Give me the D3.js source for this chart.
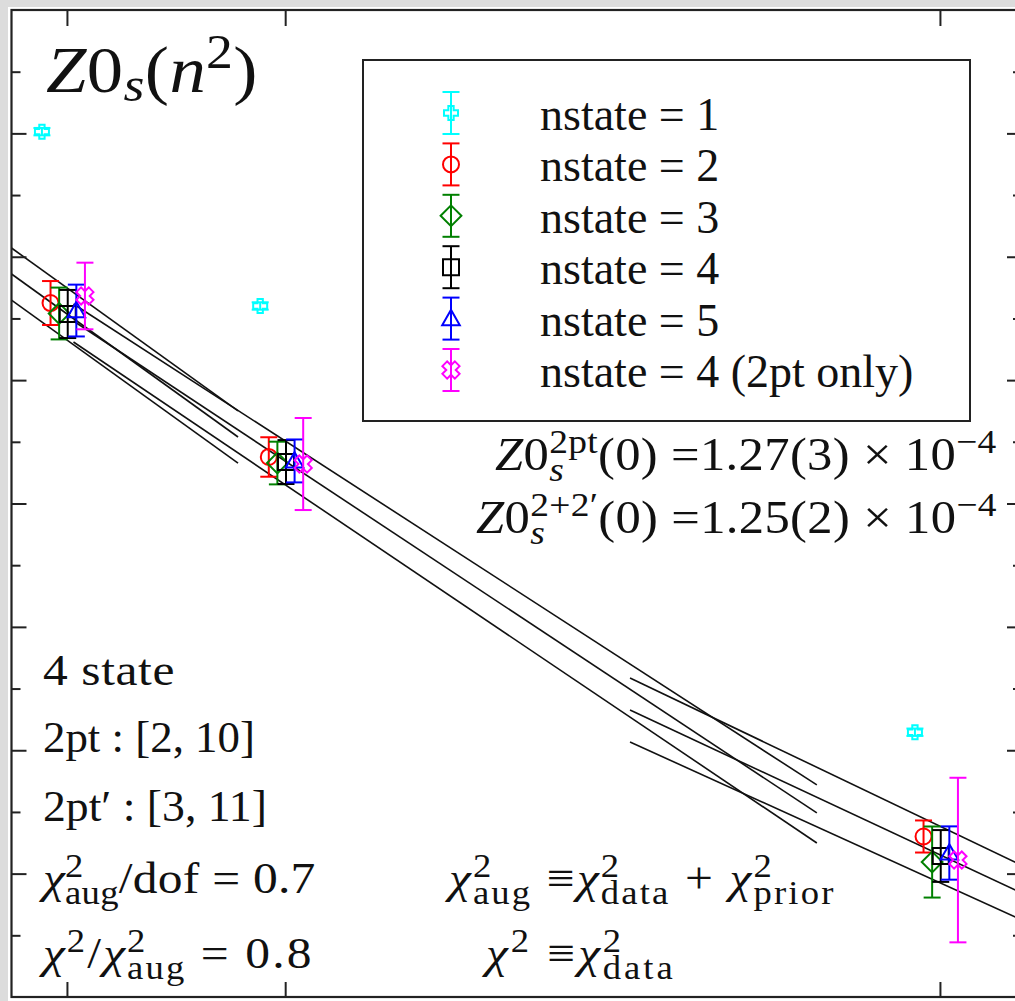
<!DOCTYPE html>
<html>
<head>
<meta charset="utf-8">
<script src="https://cdn.jsdelivr.net/npm/d3@7"></script>
<style>
  html, body { margin: 0; padding: 0; background: #fff; overflow: hidden; }
  svg { display: block; }
  text { font-family: "Liberation Serif", "Times New Roman", serif; fill: #111; white-space: pre; }
</style>
</head>
<body>
<svg id="chart" width="1015" height="1001"></svg>
<script>
// ---- data -----------------------------------------------------------
const seriesLabels  = ["nstate = 1", "nstate = 2", "nstate = 3", "nstate = 4", "nstate = 5", "nstate = 4 (2pt only)"];
const seriesColors  = ["#00ffff", "#ff0000", "#008000", "#000000", "#0000ff", "#ff00ff"];
const seriesSymbols = ["plus", "circle", "diamond", "square", "triangle", "cross"];

// momentum transfer n^2 of the three data clusters
const momenta = [0, 1, 4];

// Z0_s(n^2) in units of 1e-4, one row per series (n^2 = 0, 1, 4)
const z0Values = [
  [1.4014, 1.2601, 0.9146],
  [1.2625, 1.1377, 0.8301],
  [1.2540, 1.1328, 0.8094],
  [1.2536, 1.1336, 0.8143],
  [1.2564, 1.1345, 0.8167],
  [1.2682, 1.1320, 0.8110]
];
const z0Errors = [
  [0.003, 0.003, 0.003],
  [0.0178, 0.0160, 0.0130],
  [0.0210, 0.0173, 0.0288],
  [0.0195, 0.0178, 0.0210],
  [0.0210, 0.0174, 0.0216],
  [0.0270, 0.0373, 0.0667]
];

// fit bands: three pieces, each with central / upper / lower straight lines
const bandRanges  = [[-0.254, 0.784], [0.03, 3.436], [2.58, 4.376]];
const bandCentral = [[1.2860, 1.1539], [1.2479, 0.8492], [0.9326, 0.7841]];
const bandUpper   = [[1.3071, 1.1750], [1.2617, 0.8719], [0.9586, 0.8067]];
const bandLower   = [[1.2649, 1.1328], [1.2309, 0.8248], [0.9067, 0.7623]];

// axis ticks (no labels are printed)
const xTickValues = [0, 1, 4];
const yMajorTicks = [0.8, 0.9, 1.0, 1.1, 1.2, 1.3, 1.4];
const yMinorTicks = [0.75, 0.85, 0.95, 1.05, 1.15, 1.25, 1.35, 1.45];

// ---- layout ---------------------------------------------------------
const svg = d3.select("#chart");
const W = 1015, H = 1001;
const plot = { left: 11.5, top: 10, right: 1022, bottom: 997 };

svg.append("rect").attr("width", W).attr("height", H).attr("fill", "#dcdcdc");
svg.append("rect").attr("x", 8).attr("y", 7).attr("width", W).attr("height", H).attr("fill", "#fff");

const x = d3.scaleLinear().domain([-0.254, 4.376]).range([plot.left, plot.right]);
const y = d3.scaleLinear().domain([0.70, 1.50]).range([plot.bottom, plot.top]);

svg.append("defs").append("clipPath").attr("id", "plotClip")
  .append("rect").attr("x", plot.left).attr("y", plot.top)
  .attr("width", plot.right - plot.left).attr("height", plot.bottom - plot.top);

// ---- fit bands ------------------------------------------------------
const bandG = svg.append("g").attr("clip-path", "url(#plotClip)");
const lineGen = d3.line().x(d => x(d[0])).y(d => y(d[1]));
[bandUpper, bandCentral, bandLower].forEach(set => {
  set.forEach((vals, i) => {
    const pts = [[bandRanges[i][0], vals[0]], [bandRanges[i][1], vals[1]]];
    bandG.append("path").attr("d", lineGen(pts))
      .attr("fill", "none").attr("stroke", "#111").attr("stroke-width", 1.6);
  });
});

// ---- markers --------------------------------------------------------
function symbolPath(kind, s) {
  const p = d3.path();
  if (kind === "circle") { p.moveTo(s, 0); p.arc(0, 0, s, 0, 2 * Math.PI); }
  else if (kind === "square") { p.rect(-s, -s, 2 * s, 2 * s); }
  else if (kind === "diamond") { const r = s * 1.3; p.moveTo(0, -r); p.lineTo(r, 0); p.lineTo(0, r); p.lineTo(-r, 0); p.closePath(); }
  else if (kind === "triangle") { const h = s * 1.1; p.moveTo(0, -h); p.lineTo(h, h * 0.75); p.lineTo(-h, h * 0.75); p.closePath(); }
  else {
    // outlined plus; the cross is the same outline turned by 45 degrees
    const L = s, w = s * 0.38;
    let pts = [[w,-L],[w,-w],[L,-w],[L,w],[w,w],[w,L],[-w,L],[-w,w],[-L,w],[-L,-w],[-w,-w],[-w,-L]];
    if (kind === "cross") {
      const c = Math.SQRT1_2;
      pts = pts.map(([a, b]) => [(a - b) * c * 1.1, (a + b) * c * 1.1]);
    }
    pts.forEach((q, k) => k ? p.lineTo(q[0], q[1]) : p.moveTo(q[0], q[1]));
    p.closePath();
  }
  return p.toString();
}
const symbolSize = { plus: 7, circle: 8, diamond: 8, square: 8, triangle: 8, cross: 8 };
const capHalf = 8.5;

// horizontal dodge of the series inside each n^2 cluster
const dodge = d3.scalePoint().domain(seriesLabels).range([-25, 18]);

const ptsG = svg.append("g");
seriesLabels.forEach((lab, si) => {
  const col = seriesColors[si];
  momenta.forEach((n2, k) => {
    const cx = x(n2) + dodge(lab);
    const v = z0Values[si][k], e = z0Errors[si][k];
    const g = ptsG.append("g").attr("stroke", col).attr("stroke-width", 2).attr("fill", "none");
    g.append("line").attr("x1", cx).attr("x2", cx).attr("y1", y(v - e)).attr("y2", y(v + e));
    g.append("line").attr("x1", cx - capHalf).attr("x2", cx + capHalf).attr("y1", y(v + e)).attr("y2", y(v + e));
    g.append("line").attr("x1", cx - capHalf).attr("x2", cx + capHalf).attr("y1", y(v - e)).attr("y2", y(v - e));
    g.append("path").attr("transform", `translate(${cx},${y(v)})`)
      .attr("d", symbolPath(seriesSymbols[si], symbolSize[seriesSymbols[si]]));
  });
});

// ---- axes (inward ticks, no labels) ---------------------------------
function styleAxis(g) {
  g.select(".domain").remove();
  g.selectAll(".tick line").attr("stroke", "#222").attr("stroke-width", 2);
  g.selectAll(".tick text").remove();
}
svg.append("g").attr("transform", `translate(0,${plot.top})`)
  .call(d3.axisTop(x).tickValues(xTickValues).tickSize(-16)).call(styleAxis);
svg.append("g").attr("transform", `translate(0,${plot.bottom})`)
  .call(d3.axisBottom(x).tickValues(xTickValues).tickSize(-15)).call(styleAxis);
[[plot.left, d3.axisLeft], [plot.right, d3.axisRight]].forEach(([px, ax]) => {
  svg.append("g").attr("transform", `translate(${px},0)`)
    .call(ax(y).tickValues(yMajorTicks).tickSize(-15)).call(styleAxis);
  svg.append("g").attr("transform", `translate(${px},0)`)
    .call(ax(y).tickValues(yMinorTicks).tickSize(-9)).call(styleAxis);
});

svg.append("rect").attr("x", plot.left).attr("y", plot.top)
  .attr("width", plot.right - plot.left).attr("height", plot.bottom - plot.top)
  .attr("fill", "none").attr("stroke", "#222").attr("stroke-width", 2.2);

// ---- legend ---------------------------------------------------------
const leg = svg.append("g");
leg.append("rect").attr("x", 363).attr("y", 60).attr("width", 607).attr("height", 361)
  .attr("fill", "#fff").attr("stroke", "#222").attr("stroke-width", 2);
seriesLabels.forEach((lab, si) => {
  const cy = 113 + si * 51.4, cx = 451;
  const g = leg.append("g").attr("stroke", seriesColors[si]).attr("stroke-width", 2).attr("fill", "none");
  g.append("line").attr("x1", cx).attr("x2", cx).attr("y1", cy - 21).attr("y2", cy + 21);
  g.append("line").attr("x1", cx - capHalf).attr("x2", cx + capHalf).attr("y1", cy - 21).attr("y2", cy - 21);
  g.append("line").attr("x1", cx - capHalf).attr("x2", cx + capHalf).attr("y1", cy + 21).attr("y2", cy + 21);
  g.append("path").attr("transform", `translate(${cx},${cy})`)
    .attr("d", symbolPath(seriesSymbols[si], symbolSize[seriesSymbols[si]]));
  leg.append("text").attr("x", 540).attr("y", cy + 17).attr("font-size", 46).text(lab);
});

// ---- math-style annotations -----------------------------------------
// Builds a text line from runs (plain, italic, super/subscripts, stacked
// scripts). If a width is given, the line is widened to span it: a mild
// horizontal stretch first, the rest as extra letter spacing.
const scriptScale = 0.74;
function addMath(x0, y0, fs, runs, width) {
  const build = ls => {
    const text = svg.append("text").attr("x", x0).attr("y", y0).attr("font-size", fs);
    if (ls) text.attr("letter-spacing", ls);
    let off = 0, pendingDx = 0;
    const put = (str, o) => {
      const ts = text.append("tspan").text(str);
      const target = o.off || 0;
      if (target !== off) { ts.attr("dy", target - off); off = target; }
      if (pendingDx) { ts.attr("dx", pendingDx); pendingDx = 0; }
      if (o.it) ts.attr("font-style", "italic");
      if (o.size) ts.attr("font-size", o.size);
      return ts;
    };
    runs.forEach(r => {
      const hasSup = r.sup !== undefined, hasSub = r.sub !== undefined;
      if (hasSup || hasSub) {
        let supW = 0, subW = 0;
        if (hasSup) {
          supW = put(r.sup, { off: -0.36 * fs, size: scriptScale * fs, it: r.supIt }).node().getComputedTextLength();
        }
        if (hasSub) {
          if (hasSup) pendingDx = -supW;
          subW = put(r.sub, { off: (hasSup ? 0.25 : 0.14) * fs, size: scriptScale * fs, it: r.subIt }).node().getComputedTextLength();
        }
        if (hasSup && hasSub && supW > subW) pendingDx = supW - subW;
      } else {
        put(r.t, { off: 0, it: r.it });
      }
    });
    return text;
  };
  let text = build(0);
  if (width) {
    const n = runs.reduce((a, r) => a + (r.t || "").length +
      (r.sub !== undefined && r.sup !== undefined ? Math.max(r.sub.length, r.sup.length) : (r.sub || r.sup || "").length), 0);
    const w0 = text.node().getBBox().width;
    const sx = Math.min(1.1, width / w0);
    let ls = 0;
    for (let pass = 0; pass < 3 && sx >= 1.1; pass++) {
      const w = text.node().getBBox().width;
      ls += (width / sx - w) / n;
      text.remove();
      text = build(+ls.toFixed(2));
    }
    text.attr("transform", `translate(${x0},0) scale(${sx.toFixed(4)},1) translate(${-x0},0)`);
  }
  return text;
}

const chi = { t: "χ", it: true };
addMath(46, 92, 66, [{ t: "Z", it: true }, { t: "0" }, { sub: "s", subIt: true }, { t: "(" }, { t: "n", it: true }, { sup: "2" }, { t: ")" }], 212);

addMath(495, 470, 46, [{ t: "Z", it: true }, { t: "0" }, { sup: "2pt", sub: "s", subIt: true }, { t: "(0) =1.27(3) × 10" }, { sup: "−4" }], 502);
addMath(476, 533, 46, [{ t: "Z", it: true }, { t: "0" }, { sup: "2+2′", sub: "s", subIt: true }, { t: "(0) =1.25(2) × 10" }, { sup: "−4" }], 521);

addMath(43, 685, 45, [{ t: "4 state" }], 132);
addMath(43, 752, 45, [{ t: "2pt : [2, 10]" }], 212);
addMath(43, 821, 45, [{ t: "2pt′ : [3, 11]" }], 224);
addMath(43, 893, 45, [chi, { sup: "2", sub: "aug" }, { t: "/dof = 0.7" }], 277);
addMath(43, 968, 45, [chi, { sup: "2" }, { t: "/" }, chi, { sup: "2", sub: "aug" }, { t: " = 0.8" }], 275);

addMath(449, 893, 45, [chi, { sup: "2", sub: "aug" }, { t: " ≡" }, chi, { sup: "2", sub: "data" }, { t: " + " }, chi, { sup: "2", sub: "prior" }], 391);
addMath(486, 968, 45, [chi, { sup: "2" }, { t: " ≡" }, chi, { sup: "2", sub: "data" }], 194);
</script>
</body>
</html>
